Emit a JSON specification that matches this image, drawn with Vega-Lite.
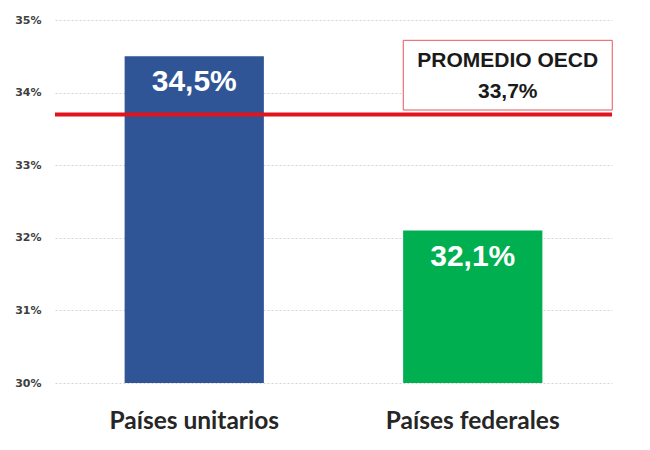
{
  "$schema": "https://vega.github.io/schema/vega-lite/v6.json",
  "width": 557,
  "height": 363,
  "autosize": "none",
  "padding": {"left": 55, "top": 20, "right": 38, "bottom": 67},
  "background": "white",
  "config": {"view": {"stroke": null}},
  "datasets": {
    "paises": [
      {"grupo": "Países unitarios", "valor": 34.5, "etiqueta": "34,5%"},
      {"grupo": "Países federales", "valor": 32.1, "etiqueta": "32,1%"}
    ],
    "promedio": [
      {"grupo": "Países federales", "valor": 33.7, "caja_y": 33.76, "caja_y2": 34.72}
    ],
    "caja_texto": [
      {"grupo": "Países federales", "y": 34.43, "texto": "PROMEDIO OECD"},
      {"grupo": "Países federales", "y": 34.01, "texto": "33,7%"}
    ]
  },
  "encoding": {
    "x": {
      "field": "grupo",
      "type": "nominal",
      "sort": ["Países unitarios", "Países federales"],
      "scale": {"paddingInner": 0.5, "paddingOuter": 0.25},
      "axis": {
        "title": null,
        "labelAngle": 0,
        "labelFont": "Lato",
        "labelFontSize": 24.5,
        "labelFontWeight": "bold",
        "labelColor": "#262626",
        "labelPadding": 26,
        "domain": false,
        "ticks": false
      }
    }
  },
  "layer": [
    {
      "data": {"name": "paises"},
      "mark": {"type": "bar"},
      "encoding": {
        "y": {
          "field": "valor",
          "type": "quantitative",
          "scale": {"domain": [30, 35], "nice": false, "zero": false},
          "axis": {
            "title": null,
            "values": [30, 31, 32, 33, 34, 35],
            "labelExpr": "datum.value + '%'",
            "labelFont": "DejaVu Sans",
            "labelFontSize": 11,
            "labelFontWeight": "bold",
            "labelColor": "#404040",
            "labelPadding": 14,
            "domain": false,
            "ticks": false,
            "grid": true,
            "gridColor": "#d4d4d4",
            "gridDash": [2, 2]
          }
        },
        "y2": {"datum": 30},
        "color": {
          "field": "grupo",
          "type": "nominal",
          "scale": {
            "domain": ["Países unitarios", "Países federales"],
            "range": ["#2f5597", "#00b050"]
          },
          "legend": null
        }
      }
    },
    {
      "data": {"name": "paises"},
      "mark": {
        "type": "text",
        "baseline": "middle",
        "dy": 26,
        "font": "Liberation Sans",
        "fontSize": 30,
        "fontWeight": "bold",
        "color": "white"
      },
      "encoding": {
        "y": {"field": "valor", "type": "quantitative"},
        "text": {"field": "etiqueta"}
      }
    },
    {
      "data": {"name": "promedio"},
      "mark": {"type": "rule", "color": "#e0141c", "strokeWidth": 4},
      "encoding": {
        "x": null,
        "y": {"field": "valor", "type": "quantitative"}
      }
    },
    {
      "data": {"name": "promedio"},
      "mark": {
        "type": "bar",
        "fill": "white",
        "stroke": "#e8565a",
        "strokeWidth": 1,
        "width": 209,
        "xOffset": 35
      },
      "encoding": {
        "y": {"field": "caja_y", "type": "quantitative"},
        "y2": {"field": "caja_y2"}
      }
    },
    {
      "data": {"name": "caja_texto"},
      "mark": {
        "type": "text",
        "baseline": "middle",
        "xOffset": 35,
        "font": "Liberation Sans",
        "fontSize": 21,
        "fontWeight": "bold",
        "color": "#1a1a1a"
      },
      "encoding": {
        "y": {"field": "y", "type": "quantitative"},
        "text": {"field": "texto"}
      }
    }
  ]
}
